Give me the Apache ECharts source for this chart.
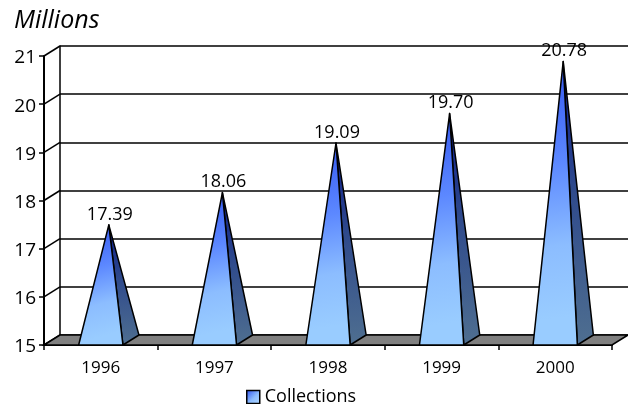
<!DOCTYPE html>
<html>
<head>
<meta charset="utf-8">
<style>html,body{margin:0;padding:0;background:#fff}#chart{width:628px;height:404px}</style>
<script src="https://cdn.jsdelivr.net/npm/echarts@6/dist/echarts.min.js"></script>
</head>
<body>
<div id="chart"></div>
<script>
const years = ['1996', '1997', '1998', '1999', '2000'];
const collections = [17.39, 18.06, 19.09, 19.70, 20.78];
const valueTicks = [15, 16, 17, 18, 19, 20, 21];

const FONT = '"Open Sans", "Noto Sans", sans-serif';
const DEPTH_X = 16, DEPTH_Y = 10;
const BASE_RATIO = 0.195;

const frontGradient = new echarts.graphic.LinearGradient(0.1, 0, 0.75, 0.9, [
  { offset: 0, color: '#3558f0' },
  { offset: 0.4, color: '#5c88ff' },
  { offset: 0.72, color: '#8cbdff' },
  { offset: 1, color: '#99ccff' }
]);
const sideGradient = new echarts.graphic.LinearGradient(0, 0, 0, 1, [
  { offset: 0, color: '#0a1a8c' },
  { offset: 0.45, color: '#2f4a8c' },
  { offset: 1, color: '#4f6f90' }
]);
const legendGradient = new echarts.graphic.LinearGradient(0, 0, 1, 1, [
  { offset: 0, color: '#2a4cf0' },
  { offset: 0.55, color: '#8cbdff' },
  { offset: 1, color: '#b5d9ff' }
]);

// Floor slab joining the front axis to the back wall
function renderFloor(params, api) {
  const c = params.coordSys;
  const b = c.y + c.height, l = c.x, r = c.x + c.width;
  return {
    type: 'polygon',
    silent: true,
    shape: { points: [[l, b], [l + DEPTH_X, b - DEPTH_Y], [r + DEPTH_X, b - DEPTH_Y], [r, b]] },
    style: { fill: '#808080', stroke: '#000', lineWidth: 1.5 }
  };
}

// Short slanted link from each value tick to its line on the back wall
function renderLink(params, api) {
  const c = params.coordSys;
  const y = api.coord([0, api.value(0)])[1];
  return {
    type: 'line',
    silent: true,
    shape: { x1: c.x, y1: y, x2: c.x + DEPTH_X, y2: y - DEPTH_Y },
    style: { stroke: '#000', lineWidth: 1.5 }
  };
}

// One pyramid: two visible faces meeting at a ridge, plus its value label
function renderPyramid(params, api) {
  const base = api.coord([api.value(0), 15]);
  const top = api.coord([api.value(0), api.value(1)]);
  const half = api.size([1, 0])[0] * BASE_RATIO;
  const left = [base[0] - half, base[1]];
  const right = [base[0] + half, base[1]];
  const backRight = [right[0] + DEPTH_X, right[1] - DEPTH_Y];
  const apex = [base[0] + DEPTH_X / 2, top[1] - DEPTH_Y / 2];
  return {
    type: 'group',
    children: [
      { type: 'polygon', shape: { points: [apex, right, backRight] },
        style: { fill: sideGradient, stroke: '#000', lineWidth: 1.5, lineJoin: 'round' } },
      { type: 'polygon', shape: { points: [apex, left, right] },
        style: { fill: frontGradient, stroke: '#000', lineWidth: 1.5, lineJoin: 'round' } },
      { type: 'text', z2: 10,
        style: { x: apex[0] + 1, y: apex[1] - 10.5, text: api.value(1).toFixed(2), fill: '#000',
                 font: '18px ' + FONT, align: 'center', verticalAlign: 'middle' } }
    ]
  };
}

const chart = echarts.init(document.getElementById('chart'), null, { renderer: 'canvas' });
chart.setOption({
  animation: false,
  backgroundColor: '#fff',
  textStyle: { fontFamily: FONT },
  title: {
    text: 'Millions', left: 9, top: 3,
    textStyle: { fontFamily: FONT, fontSize: 25, fontWeight: 'normal', fontStyle: 'italic', color: '#000' }
  },
  legend: {
    data: ['Collections'], left: 241, top: 383,
    itemWidth: 13, itemHeight: 13, itemGap: 5, icon: 'rect',
    itemStyle: { color: legendGradient, borderColor: '#000', borderWidth: 1.5 },
    textStyle: { fontFamily: FONT, fontSize: 18, color: '#000', padding: [0, 0, 0, 0] }
  },
  grid: [
    { left: 44, right: 16, top: 56, height: 289 },
    { left: 60, right: 0, top: 46, height: 289 }
  ],
  xAxis: [
    {
      type: 'category', gridIndex: 0, data: years,
      axisLine: { lineStyle: { color: '#000', width: 2 } },
      axisTick: { show: true, alignWithLabel: false, length: 5, lineStyle: { color: '#000', width: 1.5 } },
      axisLabel: { color: '#000', fontFamily: FONT, fontSize: 17, margin: 15 }
    },
    { type: 'category', gridIndex: 1, data: years, show: false }
  ],
  yAxis: [
    {
      type: 'value', gridIndex: 0, min: 15, max: 21, interval: 1,
      axisLine: { show: true, lineStyle: { color: '#000', width: 2 } },
      axisTick: { show: true, length: 5, lineStyle: { color: '#000', width: 1.5 } },
      axisLabel: { color: '#000', fontFamily: FONT, fontSize: 19, margin: 8, verticalAlign: 'top', lineHeight: 4 },
      splitLine: { show: false }
    },
    {
      type: 'value', gridIndex: 1, min: 15, max: 21, interval: 1,
      axisLine: { show: true, lineStyle: { color: '#000', width: 1.5 } },
      axisTick: { show: false },
      axisLabel: { show: false },
      splitLine: { show: true, lineStyle: { color: '#000', width: 1.5 } }
    }
  ],
  series: [
    { type: 'custom', xAxisIndex: 0, yAxisIndex: 0, z: 2, clip: false, silent: true,
      renderItem: renderLink, data: valueTicks.map(v => [v]), encode: { y: 0 } },
    { type: 'custom', xAxisIndex: 0, yAxisIndex: 0, z: 3, clip: false, silent: true,
      renderItem: renderFloor, data: [[15]], encode: { y: 0 } },
    { type: 'custom', name: 'Collections', xAxisIndex: 0, yAxisIndex: 0, z: 4, clip: false,
      itemStyle: { color: legendGradient },
      renderItem: renderPyramid,
      data: collections.map((v, i) => [i, v]), encode: { x: 0, y: 1 } }
  ]
});
</script>
</body>
</html>
